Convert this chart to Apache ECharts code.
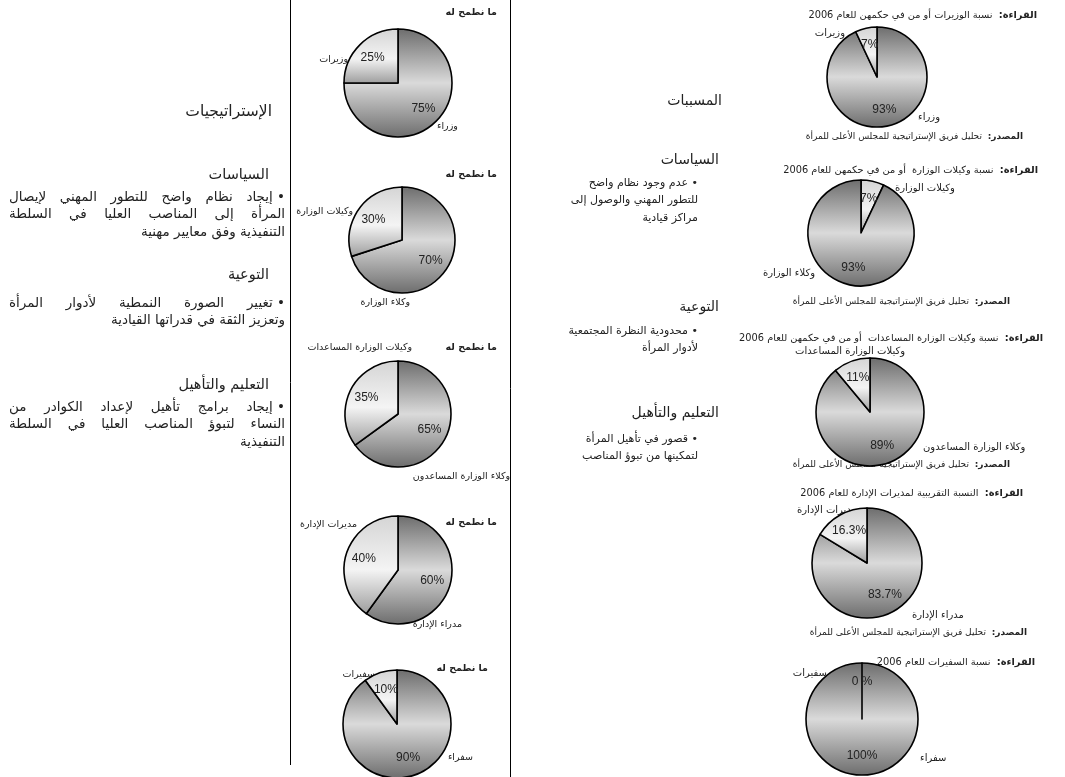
<!DOCTYPE html>
<html><head><meta charset="utf-8">
<script src="https://cdn.jsdelivr.net/npm/echarts@6/dist/echarts.min.js"></script>
<style>html,body{margin:0;padding:0;background:#fff}#c{width:1065px;height:777px}</style>
</head><body><div id="c"></div>
<script>
// ---------- data ----------
const womenNames = ['وزيرات', 'وكيلات الوزارة', 'وكيلات الوزارة المساعدات', 'مديرات الإدارة', 'سفيرات'];
const menNames = ['وزراء', 'وكلاء الوزارة', 'وكلاء الوزارة المساعدون', 'مدراء الإدارة', 'سفراء'];
const women2006 = [7, 7, 11, 16.3, 0];
const men2006 = [93, 93, 89, 83.7, 100];
const womenTarget = [25, 30, 35, 40, 10];
const menTarget = [75, 70, 65, 60, 90];
const readingTitles = [
  'نسبة الوزيرات أو من في حكمهن للعام 2006',
  'نسبة وكيلات الوزارة  أو من في حكمهن للعام 2006',
  'نسبة وكيلات الوزارة المساعدات  أو من في حكمهن للعام 2006',
  'النسبة التقريبية لمديرات الإدارة للعام 2006',
  'نسبة السفيرات للعام 2006'
];
const readingLabel = 'القراءة:';
const sourceLabel = 'المصدر:';
const sourceText = 'تحليل فريق الإستراتيجية للمجلس الأعلى للمرأة';
const targetTitle = 'ما نطمح له';

const strategyHeading = 'الإستراتيجيات';
const causesHeading = 'المسببات';
const sectionHeads = ['السياسات', 'التوعية', 'التعليم والتأهيل'];
const strategyBullets = [
  ['• إيجاد نظام واضح للتطور المهني لإيصال', 'المرأة إلى المناصب العليا في السلطة', 'التنفيذية وفق معايير مهنية'],
  ['• تغيير الصورة النمطية لأدوار المرأة', 'وتعزيز الثقة في قدراتها القيادية'],
  ['• إيجاد برامج تأهيل لإعداد الكوادر من', 'النساء لتبوؤ المناصب العليا في السلطة', 'التنفيذية']
];
const causeBullets = [
  ['• عدم وجود نظام واضح', 'للتطور المهني والوصول إلى', 'مراكز قيادية'],
  ['• محدودية النظرة المجتمعية', 'لأدوار المرأة'],
  ['• قصور في تأهيل المرأة', 'لتمكينها من تبوؤ المناصب']
];

// ---------- layout (positions / styles only) ----------
const FONT = '"Liberation Sans", "DejaVu Sans", sans-serif';
const AR = '"DejaVu Sans", sans-serif';
const pieA = [ // current 2006 column
  {c: [877, 77], r: 50, womenFirst: false, title: [1037, 15], src: [1023, 137], wl: [845, 33, 'right'], ml: [918, 117, 'left']},
  {c: [861, 233], r: 53, womenFirst: true, title: [1038, 170], src: [1010, 302], wl: [895, 188, 'left'], ml: [815, 273, 'right']},
  {c: [870, 412], r: 54, womenFirst: false, title: [1043, 338], src: [1010, 465], wl: [905, 351, 'right'], ml: [923, 447, 'left']},
  {c: [867, 563], r: 55, womenFirst: false, title: [1023, 493], src: [1027, 633], wl: [857, 510, 'right'], ml: [912, 615, 'left']},
  {c: [862, 719], r: 56, womenFirst: false, title: [1035, 662], src: null, wl: [827, 673, 'right'], ml: [920, 758, 'left']}
];
const pieB = [ // target column
  {c: [398, 83], r: 54, head: [497, 13], wl: [348, 60, 'right'], ml: [437, 127, 'left']},
  {c: [402, 240], r: 53, head: [497, 175], wl: [353, 212, 'right'], ml: [410, 303, 'right']},
  {c: [398, 414], r: 53, head: [497, 348], wl: [412, 348, 'right'], ml: [510, 477, 'right']},
  {c: [398, 570], r: 54, head: [497, 523], wl: [357, 525, 'right'], ml: [462, 625, 'right']},
  {c: [397, 724], r: 54, head: [488, 669], wl: [375, 675, 'right'], ml: [473, 758, 'right']}
];

const G = echarts.graphic.LinearGradient;
const largeFill = () => new G(0, 0, 0, 1, [{offset: 0, color: '#6c6c6c'}, {offset: 0.5, color: '#dadada'}, {offset: 1, color: '#6c6c6c'}]);
const smallFill = () => new G(0, 0, 0, 1, [{offset: 0, color: '#d4d4d4'}, {offset: 0.55, color: '#f4f4f4'}, {offset: 1, color: '#9c9c9c'}]);

const rl = s => '\u202B' + s + '\u202C';
const pct = v => (v === 0 ? '0 %' : v + '%');
const measureCtx = document.createElement('canvas').getContext('2d');
function measure(s, size) { measureCtx.font = size + 'px "DejaVu Sans"'; return measureCtx.measureText(s).width; }

function txt(x, y, s, size, align, weight, font) {
  return {type: 'text', x: x, y: y, silent: true, style: {
    text: s.split('\n').map(rl).join('\n'), fontSize: size, fontFamily: font || AR,
    fontWeight: weight || 'normal', fill: '#222', align: align || 'right', verticalAlign: 'middle', lineHeight: size + 6
  }};
}
// justified RTL line: words spread between left and right edges (bullet kept with first word)
function justified(left, right, y, line, size) {
  let words = line.split(' ').filter(w => w.length);
  if (words[0] === '•' && words.length > 1) words = [words[0] + ' ' + words[1]].concat(words.slice(2));
  const widths = words.map(w => measure(w, size));
  const total = widths.reduce((a, b) => a + b, 0);
  const gap = words.length > 1 ? (right - left - total) / (words.length - 1) : 0;
  const out = [];
  let x = right;
  words.forEach((w, i) => { out.push(txt(x, y, w, size, 'right')); x -= widths[i] + gap; });
  return out;
}
function boldLead(x, y, lead, rest, size) {
  return {type: 'text', x: x, y: y, silent: true, style: {
    text: '{n|' + rl(rest) + '}{n|  }{b|' + rl(lead) + '}',
    align: 'right', verticalAlign: 'middle', fill: '#222',
    rich: {n: {fontSize: size, fontFamily: AR, fill: '#222'}, b: {fontSize: size, fontFamily: AR, fontWeight: 'bold', fill: '#222'}}
  }};
}

const series = [];
function addPie(center, r, items) {
  series.push({type: 'pie', center: center, radius: r, startAngle: 90, clockwise: true, silent: true, animation: false,
    label: {show: false}, labelLine: {show: false},
    itemStyle: {borderColor: '#000', borderWidth: 1.6},
    data: items.map(d => ({name: d.name, value: d.value, itemStyle: {color: d.small ? smallFill() : largeFill()}}))});
  series.push({type: 'pie', center: center, radius: [r * 0.22, r], startAngle: 90, clockwise: true, silent: true, animation: false,
    labelLine: {show: false}, itemStyle: {color: 'rgba(0,0,0,0)', borderWidth: 0},
    label: {show: true, position: 'inside', fontSize: 12, fontFamily: FONT, color: '#222', formatter: p => pct(p.value)},
    data: items.map(d => ({name: d.name, value: d.value}))});
}

const graphic = [];
graphic.push({type: 'line', silent: true, shape: {x1: 290.5, y1: 0, x2: 290.5, y2: 765}, style: {stroke: '#000', lineWidth: 1}});
graphic.push({type: 'line', silent: true, shape: {x1: 510.5, y1: 0, x2: 510.5, y2: 777}, style: {stroke: '#000', lineWidth: 1}});

for (let i = 0; i < 5; i++) {
  const a = pieA[i];
  const w = {name: womenNames[i], value: women2006[i], small: true};
  const m = {name: menNames[i], value: men2006[i], small: false};
  addPie(a.c, a.r, a.womenFirst ? [w, m] : [m, w]);
  graphic.push(boldLead(a.title[0], a.title[1], readingLabel, readingTitles[i], 9.8));
  if (a.src) graphic.push(boldLead(a.src[0], a.src[1], sourceLabel, sourceText, 9));
  graphic.push(txt(a.wl[0], a.wl[1], womenNames[i], 10, a.wl[2]));
  graphic.push(txt(a.ml[0], a.ml[1], menNames[i], 10, a.ml[2]));

  const b = pieB[i];
  addPie(b.c, b.r, [{name: menNames[i], value: menTarget[i], small: false}, {name: womenNames[i], value: womenTarget[i], small: true}]);
  graphic.push(txt(b.head[0], b.head[1], targetTitle, 9.5, 'right', 'bold'));
  graphic.push(txt(b.wl[0], b.wl[1], womenNames[i], 9.5, b.wl[2]));
  graphic.push(txt(b.ml[0], b.ml[1], menNames[i], 9.5, b.ml[2]));
}

// left column: strategies (justified paragraphs)
graphic.push(txt(272, 112, strategyHeading, 15.5));
const leftHeadY = [175, 275, 385];
const leftBodyY = [197, 303, 407];
for (let k = 0; k < 3; k++) {
  graphic.push(txt(269, leftHeadY[k], sectionHeads[k], 14.5));
  const lines = strategyBullets[k];
  lines.forEach((line, j) => {
    const y = leftBodyY[k] + j * 17.5;
    if (j < lines.length - 1) justified(9, 285, y, line, 13.5).forEach(g => graphic.push(g));
    else graphic.push(txt(285, y, line, 13.5));
  });
}
// middle column: causes
graphic.push(txt(722, 101, causesHeading, 14));
const midHeadY = [160, 307, 413];
const midBodyY = [183, 331, 439];
for (let k = 0; k < 3; k++) {
  graphic.push(txt(719, midHeadY[k], sectionHeads[k], 14));
  causeBullets[k].forEach((line, j) => graphic.push(txt(698, midBodyY[k] + j * 17.5, line, 11)));
}

const chart = echarts.init(document.getElementById('c'), null, {renderer: 'canvas'});
chart.setOption({backgroundColor: '#fff', animation: false, series: series, graphic: graphic});
</script></body></html>
